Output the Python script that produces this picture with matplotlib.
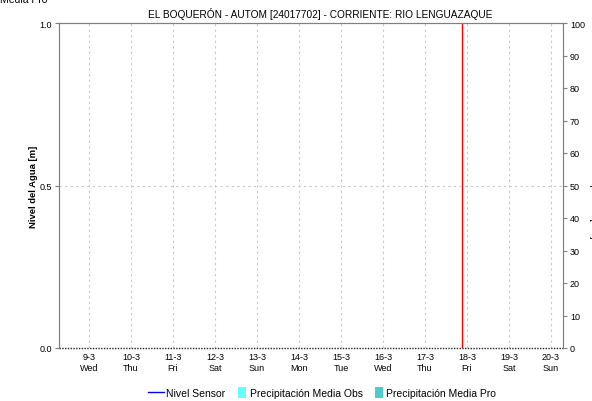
import matplotlib
matplotlib.use("Agg")
import matplotlib.pyplot as plt
from matplotlib.patches import Patch, Rectangle
from matplotlib.lines import Line2D
from matplotlib.legend_handler import HandlerPatch

plt.rcParams["font.family"] = ["Liberation Sans", "DejaVu Sans"]

# Data (no readings in the period shown)
day_labels = ["9-3", "10-3", "11-3", "12-3", "13-3", "14-3", "15-3",
              "16-3", "17-3", "18-3", "19-3", "20-3"]
weekdays = ["Wed", "Thu", "Fri", "Sat", "Sun", "Mon", "Tue",
            "Wed", "Thu", "Fri", "Sat", "Sun"]
day_pos = [9, 10, 11, 12, 13, 14, 15, 16, 17, 18, 19, 20]   # day of March
nivel_t = []        # sensor level times (day of March)
nivel_m = []        # sensor level [m]
precip_obs = []     # observed precipitation [mm]
precip_pro = []     # forecast precipitation [mm]
now_day = 17.89     # current time marker
x_start, x_end = 8.286, 20.286

TITLE = "EL BOQUERÓN - AUTOM [24017702] - CORRIENTE: RIO LENGUAZAQUE"
AX_GRAY = "#808080"
OBS_COLOR = "#66ffff"
PRO_COLOR = "#4ccbc8"

fig = plt.figure(figsize=(5.92, 4.02), dpi=100)
ax = fig.add_axes([59 / 592, 1 - 349 / 402, 504 / 592, 325 / 402])
ax2 = ax.twinx()

ax.plot(nivel_t, nivel_m, color="blue", lw=1)
ax2.bar(nivel_t[:len(precip_obs)], precip_obs, color=OBS_COLOR)
ax2.bar(nivel_t[:len(precip_pro)], precip_pro, color=PRO_COLOR)
ax.axvline(now_day, color="red", lw=1)

ax.set_xlim(x_start, x_end)
ax.set_ylim(0, 1)
ax2.set_ylim(0, 100)

ax.set_xticks(day_pos)
ax.set_xticklabels([f"{d}\n{w}" for d, w in zip(day_labels, weekdays)], fontsize=6.5)
ax.set_yticks([0, 0.5, 1.0])
ax.set_yticklabels(["0.0", "0.5", "1.0"], fontsize=6.5)
ax2.set_yticks(range(0, 101, 10))
ax2.set_yticklabels([str(v) for v in range(0, 101, 10)], fontsize=6.5)

ax.tick_params(axis="x", length=0, pad=3)
ax.tick_params(axis="y", length=3, color=AX_GRAY, pad=2)
ax2.tick_params(axis="y", length=3, color=AX_GRAY, pad=2)

ax.grid(True, axis="x", linestyle=(0, (2, 3)), color="#c8c8c8", lw=0.8)
ax.axhline(0.5, linestyle=(0, (2, 3)), color="#c8c8c8", lw=0.8)

for a in (ax, ax2):
    for s in ("left", "right", "top"):
        a.spines[s].set_color(AX_GRAY)
        a.spines[s].set_linewidth(0.8)
    a.spines["bottom"].set_visible(False)
ax.axhline(0, linestyle=(0, (1, 1)), color="#222222", lw=1, clip_on=False)

ax.set_ylabel("Nivel del Agua [m]", fontsize=6.8, fontweight="semibold", labelpad=1)
ax.set_title(TITLE, fontsize=7.3, x=(320 - 59) / 504, pad=4)

fig.text(0.0, 1.0, "Media Pro", fontsize=7.5, ha="left", va="center")
fig.text(589 / 592, 0.5, "Precipitación [mm]", fontsize=6.5, rotation=270,
         ha="left", va="center")


def narrow_patch(legend, orig_handle, xdescent, ydescent, width, height, fontsize):
    return Rectangle((width - 7 - xdescent, -ydescent - 1), 6, height + 2)


handles = [Line2D([], [], color="blue", lw=1),
           Patch(facecolor=OBS_COLOR),
           Patch(facecolor=PRO_COLOR)]
labels = ["Nivel Sensor", "Precipitación Media Obs", "Precipitación Media Pro"]
fig.legend(handles, labels, loc="center", bbox_to_anchor=(322 / 592, 1 - 394 / 402),
           ncol=3, frameon=False, fontsize=7.5, handlelength=1.6, handletextpad=0.2,
           columnspacing=0.5, handleheight=0.9,
           handler_map={Patch: HandlerPatch(patch_func=narrow_patch)})

fig.savefig("out.png", dpi=100)
